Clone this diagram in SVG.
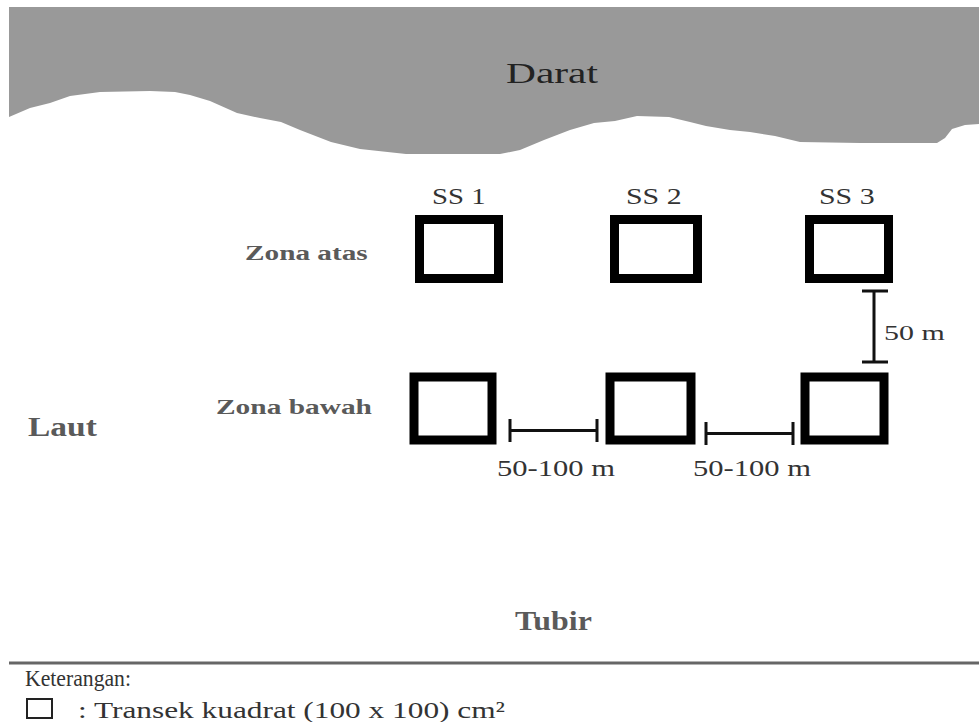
<svg xmlns="http://www.w3.org/2000/svg" width="979" height="722" viewBox="0 0 979 722">
<style>
.t{font-family:"Liberation Serif","Times New Roman",serif;}
.b{font-weight:bold;fill:#5a5a5a;}
.r{fill:#333333;}
.sq{fill:#ffffff;stroke:#000000;stroke-width:9;}
.dim{stroke:#111111;stroke-width:3;fill:none;}
</style>
<rect width="979" height="722" fill="#ffffff"/>
<g id="darat">
<path d="M9,7 L979,7 L979,124 L965,125 L952,129 L945,138 L937,143 L860,143 L800,142 L775,136 L750,132 L730,130 L706,126 L690,122 L669,117 L637,116 L615,121 L594,123 L570,130 L544,140 L520,150 L500,154 L406,154 L360,149 L331,142 L300,130 L281,122 L260,118 L237,113 L210,101 L190,95 L175,92 L150,91 L100,92 L70,96 L50,103 L30,108 L9,117 Z" fill="#999999"/>
<text class="t" transform="translate(506,83) scale(1.38,1)" font-size="30" fill="#222222">Darat</text>
</g>
<g id="labels">
<text class="t r" transform="translate(432,204) scale(1.25,1)" font-size="23">SS 1</text>
<text class="t r" transform="translate(626,204) scale(1.3,1)" font-size="23">SS 2</text>
<text class="t r" transform="translate(819,204) scale(1.3,1)" font-size="23">SS 3</text>
<text class="t b" transform="translate(245,260) scale(1.33,1)" font-size="22">Zona atas</text>
<text class="t b" transform="translate(216,414) scale(1.336,1)" font-size="22">Zona bawah</text>
<text class="t b" transform="translate(28,436) scale(1.24,1)" font-size="27">Laut</text>
<text class="t b" transform="translate(515,630) scale(1.14,1)" font-size="28">Tubir</text>
</g>
<g id="ss1-atas"><rect class="sq" x="419.5" y="219.5" width="79" height="59"/></g>
<g id="ss2-atas"><rect class="sq" x="614.5" y="219.5" width="83" height="59"/></g>
<g id="ss3-atas"><rect class="sq" x="809.5" y="219.5" width="79" height="59"/></g>
<g id="ss1-bawah"><rect class="sq" x="414" y="377" width="78" height="63"/></g>
<g id="ss2-bawah"><rect class="sq" x="610" y="377" width="81" height="63"/></g>
<g id="ss3-bawah"><rect class="sq" x="805" y="377" width="79" height="63"/></g>
<g id="connectors">
<path class="dim" d="M874,291 V362 M862,291 H888 M862,362 H888"/>
<path class="dim" d="M510,419 V442 M597,419 V442 M510,430.5 H597"/>
<path class="dim" d="M706,422 V445 M793,422 V445 M706,433.5 H793"/>
<text class="t r" transform="translate(884,340) scale(1.36,1)" font-size="22">50 m</text>
<text class="t r" transform="translate(497,476) scale(1.33,1)" font-size="23">50-100 m</text>
<text class="t r" transform="translate(693,476) scale(1.33,1)" font-size="23">50-100 m</text>
</g>
<g id="legend">
<rect x="9" y="661.5" width="970" height="3" fill="#666666"/>
<text class="t r" x="25" y="686" font-size="24" textLength="106" lengthAdjust="spacingAndGlyphs">Keterangan:</text>
<rect x="27" y="699" width="25" height="19" fill="none" stroke="#222222" stroke-width="2"/>
<text class="t r" x="78" y="718" font-size="23" textLength="427" lengthAdjust="spacingAndGlyphs">: Transek kuadrat (100 x 100) cm²</text>
</g>
</svg>
